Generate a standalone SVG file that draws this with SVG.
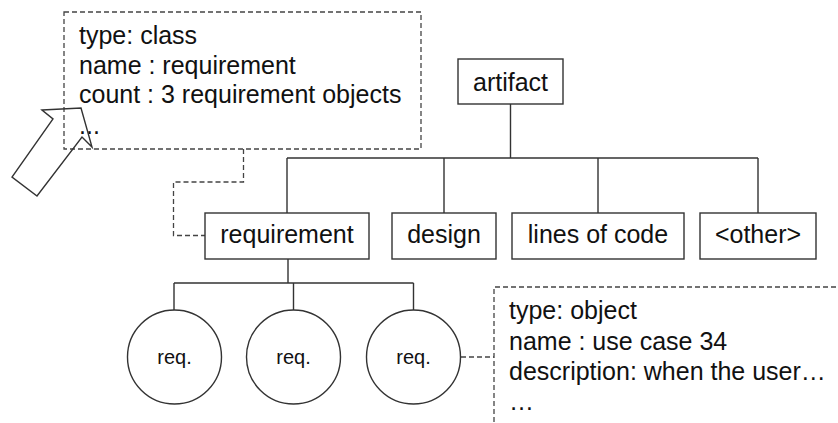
<svg xmlns="http://www.w3.org/2000/svg" width="838" height="423" viewBox="0 0 838 423">
<style>
.bg{fill:#ffffff}
.box{fill:#ffffff;stroke:#333333;stroke-width:1.4}
.ln{fill:none;stroke:#333333;stroke-width:1.4}
.dash{fill:none;stroke:#444444;stroke-width:1.3;stroke-dasharray:5 3}
.t{font-family:"Liberation Sans",Arial,sans-serif;font-size:25px;fill:#111111}
.c{text-anchor:middle}
.s{font-size:20px}
</style>
<rect class="bg" x="0" y="0" width="838" height="423"/>
<g id="connectors">
<path class="ln" d="M510.5,104 V158 M287,158 H758 M287,158 V213 M444,158 V213 M598,158 V213 M758,158 V213"/>
<path class="ln" d="M288,259 V283 M174,283 H413.5 M174,283 V310 M293.5,283 V310 M413.5,283 V310"/>
<path class="dash" d="M243.5,149 V182 H173.5 V235.5 H205"/>
<path class="dash" d="M461,357 H494"/>
</g>
<g id="note-class">
<rect class="dash" x="64" y="12" width="357" height="137"/>
<text class="t" x="79" y="44">type: class</text>
<text class="t" x="79" y="74">name : requirement</text>
<text class="t" x="79" y="103">count : 3 requirement objects</text>
<text class="t" x="79" y="134">...</text>
</g>
<g id="pointer-arrow">
<polygon class="ln" points="42,110 81,108 92,147 82,137 37,196 12,177 53,119"/>
</g>
<g id="artifact">
<rect class="box" x="458" y="59" width="105" height="45"/>
<text class="t c" x="510.5" y="91">artifact</text>
</g>
<g id="requirement">
<rect class="box" x="205" y="213" width="164" height="46"/>
<text class="t c" x="287" y="243">requirement</text>
</g>
<g id="design">
<rect class="box" x="392" y="213" width="104" height="46"/>
<text class="t c" x="444" y="243">design</text>
</g>
<g id="lines-of-code">
<rect class="box" x="512" y="213" width="172" height="46"/>
<text class="t c" x="598" y="243">lines of code</text>
</g>
<g id="other">
<rect class="box" x="700" y="213" width="116" height="46"/>
<text class="t c" x="758" y="243">&lt;other&gt;</text>
</g>
<g id="req1">
<circle class="box" cx="174.5" cy="357" r="47"/>
<text class="t s c" x="174.5" y="364">req.</text>
</g>
<g id="req2">
<circle class="box" cx="293.5" cy="357" r="47"/>
<text class="t s c" x="293.5" y="364">req.</text>
</g>
<g id="req3">
<circle class="box" cx="413.5" cy="357" r="47"/>
<text class="t s c" x="413.5" y="364">req.</text>
</g>
<g id="note-object">
<path class="dash" d="M494,430 V287 H845"/>
<text class="t" x="509" y="319">type: object</text>
<text class="t" x="509" y="350">name : use case 34</text>
<text class="t" x="509" y="380">description: when the user…</text>
<text class="t" x="509" y="410">…</text>
</g>
</svg>
